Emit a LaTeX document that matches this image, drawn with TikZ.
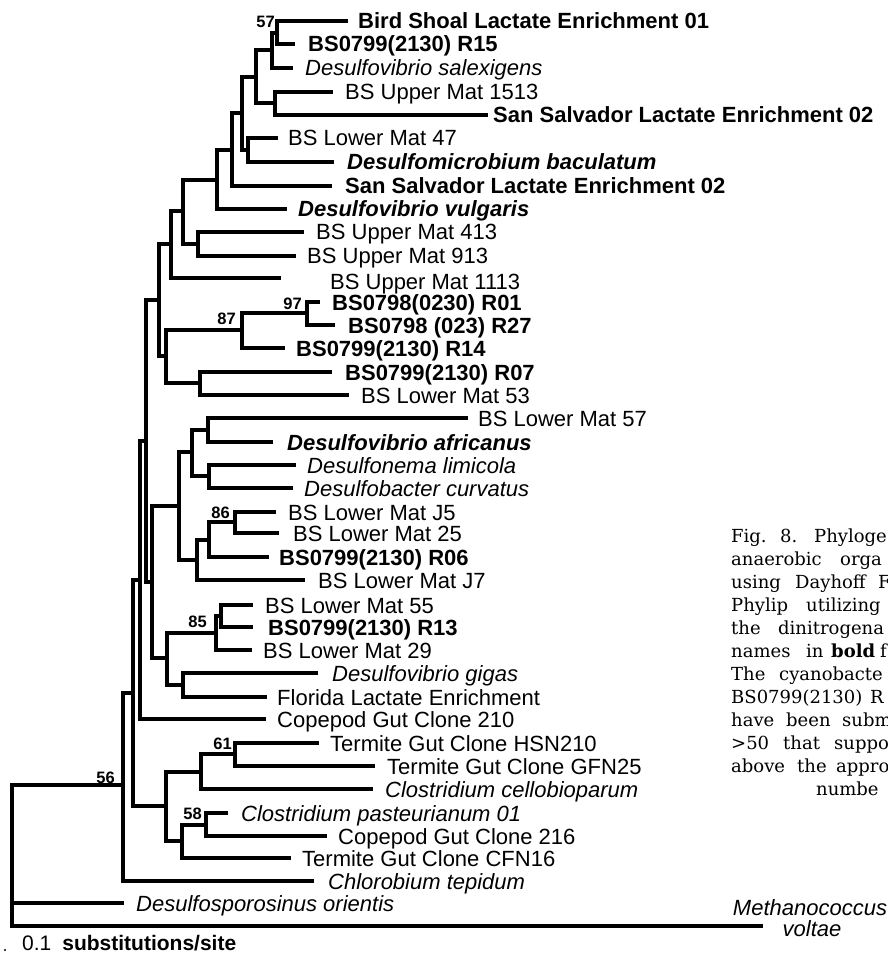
\documentclass[tikz,border=0pt]{standalone}
\usepackage{fontspec}
\setmainfont{Liberation Sans}
\newfontfamily\capfont{DejaVu Serif}

\tikzset{
  br/.style={line width=3.2pt},
  lr/.style={anchor=base west,inner sep=0pt,font=\fontsize{22}{24}\selectfont},
  lb/.style={lr,font=\fontsize{22}{24}\selectfont\bfseries},
  li/.style={lr,font=\fontsize{22}{24}\selectfont\itshape},
  lbi/.style={lr,font=\fontsize{22}{24}\selectfont\bfseries\itshape},
  boot/.style={anchor=base east,inner sep=0pt,font=\fontsize{16.5}{18}\selectfont\bfseries},
  capt/.style={anchor=base west,inner sep=0pt,font=\capfont\fontsize{18}{20}\selectfont}
}

\begin{document}
\begin{tikzpicture}[x=1pt,y=-1pt]
        \useasboundingbox (0,0) rectangle (887,957);
        \clip (0,0) rectangle (887,957);

        % leaves
        \coordinate (t1) at (348,21);  \node[lb] (l1) at (358,29) {Bird Shoal Lactate Enrichment 01};
        \coordinate (t2) at (295,44);  \node[lb] (l2) at (308,52) {BS0799(2130) R15};
        \coordinate (t3) at (293,68);  \node[li] (l3) at (305,76) {Desulfovibrio salexigens};
        \coordinate (t4) at (333,92);  \node[lr] (l4) at (345,100) {BS Upper Mat 1513};
        \coordinate (t5) at (488,115); \node[lb] (l5) at (493,123) {San Salvador Lactate Enrichment 02};
        \coordinate (t6) at (278,138); \node[lr] (l6) at (288,146) {BS Lower Mat 47};
        \coordinate (t7) at (334,162); \node[lbi] (l7) at (347,170) {Desulfomicrobium baculatum};
        \coordinate (t8) at (332,186); \node[lb] (l8) at (345,194) {San Salvador Lactate Enrichment 02};
        \coordinate (t9) at (287,209); \node[lbi] (l9) at (298,217) {Desulfovibrio vulgaris};
        \coordinate (t10) at (304,232); \node[lr] (l10) at (316,240) {BS Upper Mat 413};
        \coordinate (t11) at (296,256); \node[lr] (l11) at (307,264) {BS Upper Mat 913};
        \coordinate (t12) at (281,278); \node[lr] (l12) at (330,289) {BS Upper Mat 1113};
        \coordinate (t13) at (320,302); \node[lb] (l13) at (332,310) {BS0798(0230) R01};
        \coordinate (t14) at (335,325); \node[lb] (l14) at (348,333) {BS0798 (023) R27};
        \coordinate (t15) at (285,348); \node[lb] (l15) at (296,356) {BS0799(2130) R14};
        \coordinate (t16) at (332,372); \node[lb] (l16) at (345,380) {BS0799(2130) R07};
        \coordinate (t17) at (349,395); \node[lr] (l17) at (361,403) {BS Lower Mat 53};
        \coordinate (t18) at (468,418); \node[lr] (l18) at (478,426) {BS Lower Mat 57};
        \coordinate (t19) at (273,442); \node[lbi] (l19) at (287,450) {Desulfovibrio africanus};
        \coordinate (t20) at (296,465); \node[li] (l20) at (307,473) {Desulfonema limicola};
        \coordinate (t21) at (293,488); \node[li] (l21) at (304,496) {Desulfobacter curvatus};
        \coordinate (t22) at (276,512); \node[lr] (l22) at (288,520) {BS Lower Mat J5};
        \coordinate (t23) at (279,533); \node[lr] (l23) at (293,541) {BS Lower Mat 25};
        \coordinate (t24) at (269,557); \node[lb] (l24) at (279,565) {BS0799(2130) R06};
        \coordinate (t25) at (305,580); \node[lr] (l25) at (318,588) {BS Lower Mat J7};
        \coordinate (t26) at (253,605); \node[lr] (l26) at (265,613) {BS Lower Mat 55};
        \coordinate (t27) at (253,627); \node[lb] (l27) at (268,635) {BS0799(2130) R13};
        \coordinate (t28) at (252,650); \node[lr] (l28) at (263,658) {BS Lower Mat 29};
        \coordinate (t29) at (318,673); \node[li] (l29) at (332,681) {Desulfovibrio gigas};
        \coordinate (t30) at (267,697); \node[lr] (l30) at (277,705) {Florida Lactate Enrichment};
        \coordinate (t31) at (266,719); \node[lr] (l31) at (277,727) {Copepod Gut Clone 210};
        \coordinate (t32) at (319,743); \node[lr] (l32) at (330,751) {Termite Gut Clone HSN210};
        \coordinate (t33) at (375,766); \node[lr] (l33) at (387,774) {Termite Gut Clone GFN25};
        \coordinate (t34) at (373,789); \node[li] (l34) at (385,797) {Clostridium cellobioparum};
        \coordinate (t35) at (228,813); \node[li] (l35) at (241,821) {Clostridium pasteurianum 01};
        \coordinate (t36) at (327,836); \node[lr] (l36) at (338,844) {Copepod Gut Clone 216};
        \coordinate (t37) at (291,858); \node[lr] (l37) at (302,866) {Termite Gut Clone CFN16};
        \coordinate (t38) at (314,881); \node[li] (l38) at (328,889) {Chlorobium tepidum};
        \coordinate (t39) at (124,903); \node[li] (l39) at (136,911) {Desulfosporosinus orientis};
        \coordinate (t40) at (763,926);
        \node[li,anchor=base] (l40a) at (810,915) {Methanococcus};
        \node[li,anchor=base] (l40b) at (812,936) {voltae};

        % inner nodes
        \coordinate (nA) at (277,33);   \coordinate (nB) at (272,50);
        \coordinate (nC) at (256,77);   \coordinate (nD) at (275,103);
        \coordinate (nE) at (242,113);  \coordinate (nF) at (248,150);
        \coordinate (nG) at (232,150);  \coordinate (nH) at (217,180);
        \coordinate (nI) at (183,211);  \coordinate (nJ) at (198,244);
        \coordinate (nK) at (171,244);  \coordinate (nL) at (159,300);
        \coordinate (nM) at (166,356);  \coordinate (nN) at (242,330);
        \coordinate (nO) at (200,383);  \coordinate (nP) at (307,313);
        \coordinate (nQ) at (146,441);  \coordinate (nR) at (152,582);
        \coordinate (nS) at (179,506);  \coordinate (nT) at (167,658);
        \coordinate (nU) at (192,452);  \coordinate (nV) at (197,560);
        \coordinate (nW) at (208,430);  \coordinate (nX) at (209,476);
        \coordinate (nY) at (209,540);  \coordinate (nZ) at (235,522);
        \coordinate (nAA) at (216,633); \coordinate (nAB) at (183,685);
        \coordinate (nAC) at (221,616); \coordinate (nAD) at (140,580);
        \coordinate (nAE) at (133,693); \coordinate (nAF) at (166,806);
        \coordinate (nAG) at (201,772); \coordinate (nAH) at (182,841);
        \coordinate (nAI) at (235,754); \coordinate (nAJ) at (206,825);
        \coordinate (nAK) at (123,785); \coordinate (root) at (12,903);

        % branches
        \draw[br] (nA) |- (t1) (nA) |- (t2);
        \draw[br] (nB) |- (nA) (nB) |- (t3);
        \draw[br] (nD) |- (t4) (nD) |- (t5);
        \draw[br] (nC) |- (nB) (nC) |- (nD);
        \draw[br] (nF) |- (t6) (nF) |- (t7);
        \draw[br] (nE) |- (nC) (nE) |- (nF);
        \draw[br] (nG) |- (nE) (nG) |- (t8);
        \draw[br] (nH) |- (nG) (nH) |- (t9);
        \draw[br] (nJ) |- (t10) (nJ) |- (t11);
        \draw[br] (nI) |- (nH) (nI) |- (nJ);
        \draw[br] (nK) |- (nI) (nK) |- (t12);
        \draw[br] (nP) |- (t13) (nP) |- (t14);
        \draw[br] (nN) |- (nP) (nN) |- (t15);
        \draw[br] (nO) |- (t16) (nO) |- (t17);
        \draw[br] (nM) |- (nN) (nM) |- (nO);
        \draw[br] (nL) |- (nK) (nL) |- (nM);
        \draw[br] (nW) |- (t18) (nW) |- (t19);
        \draw[br] (nX) |- (t20) (nX) |- (t21);
        \draw[br] (nU) |- (nW) (nU) |- (nX);
        \draw[br] (nZ) |- (t22) (nZ) |- (t23);
        \draw[br] (nY) |- (nZ) (nY) |- (t24);
        \draw[br] (nV) |- (nY) (nV) |- (t25);
        \draw[br] (nS) |- (nU) (nS) |- (nV);
        \draw[br] (nAC) |- (t26) (nAC) |- (t27);
        \draw[br] (nAA) |- (nAC) (nAA) |- (t28);
        \draw[br] (nAB) |- (t29) (nAB) |- (t30);
        \draw[br] (nT) |- (nAA) (nT) |- (nAB);
        \draw[br] (nR) |- (nS) (nR) |- (nT);
        \draw[br] (nQ) |- (nL) (nQ) |- (nR);
        \draw[br] (nAD) |- (nQ) (nAD) |- (t31);
        \draw[br] (nAI) |- (t32) (nAI) |- (t33);
        \draw[br] (nAG) |- (nAI) (nAG) |- (t34);
        \draw[br] (nAJ) |- (t35) (nAJ) |- (t36);
        \draw[br] (nAH) |- (nAJ) (nAH) |- (t37);
        \draw[br] (nAF) |- (nAG) (nAF) |- (nAH);
        \draw[br] (nAE) |- (nAD) (nAE) |- (nAF);
        \draw[br] (nAK) |- (nAE) (nAK) |- (t38);
        \draw[br] (root) |- (nAK) (root) |- (t39) (root) |- (t40);

        % bootstrap values
        \node[boot] (b57) at (275,28) {57};
        \node[boot] (b97) at (302,309) {97};
        \node[boot] (b87) at (236,324) {87};
        \node[boot] (b86) at (230,518) {86};
        \node[boot] (b85) at (207,627) {85};
        \node[boot] (b61) at (232,749) {61};
        \node[boot] (b58) at (202,819) {58};
        \node[boot] (b56) at (115,783) {56};

        % scale
        \fill (5,950) circle (1.2pt);
        \node[lr,font=\fontsize{21}{24}\selectfont] (scale) at (22,950) {0.1\hspace{11pt}\textbf{substitutions/site}};

        % caption, cut at the right edge
        \node[capt] (c1) at (731,542) {Fig.};
        \node[capt] (c2) at (780,542) {8.};
        \node[capt] (c3) at (814,542) {Phyloge};
        \node[capt] (c4) at (731,565) {anaerobic};
        \node[capt] (c5) at (840,565) {orga};
        \node[capt] (c6) at (731,588) {using};
        \node[capt] (c7) at (795,588) {Dayhoff};
        \node[capt] (c8) at (878,588) {F};
        \node[capt] (c9) at (731,611) {Phylip};
        \node[capt] (c10) at (806,611) {utilizing};
        \node[capt] (c11) at (731,634) {the};
        \node[capt] (c12) at (778,634) {dinitrogena};
        \node[capt] (c13) at (731,657) {names};
        \node[capt] (c14) at (806,657) {in};
        \node[capt] (c15) at (831,657) {\bfseries bold};
        \node[capt] (c16) at (880,657) {f};
        \node[capt] (c17) at (731,680) {The};
        \node[capt] (c18) at (779,680) {cyanobacte};
        \node[capt] (c19) at (731,703) {BS0799(2130)};
        \node[capt] (c20) at (870,703) {R};
        \node[capt] (c21) at (731,726) {have};
        \node[capt] (c22) at (786,726) {been};
        \node[capt] (c23) at (842,726) {subm};
        \node[capt] (c24) at (731,749) {>50};
        \node[capt] (c25) at (783,749) {that};
        \node[capt] (c26) at (834,749) {suppo};
        \node[capt] (c27) at (731,772) {above};
        \node[capt] (c28) at (797,772) {the};
        \node[capt] (c29) at (836,772) {appro};
        \node[capt] (c30) at (816,795) {numbe};
\end{tikzpicture}
\end{document}
